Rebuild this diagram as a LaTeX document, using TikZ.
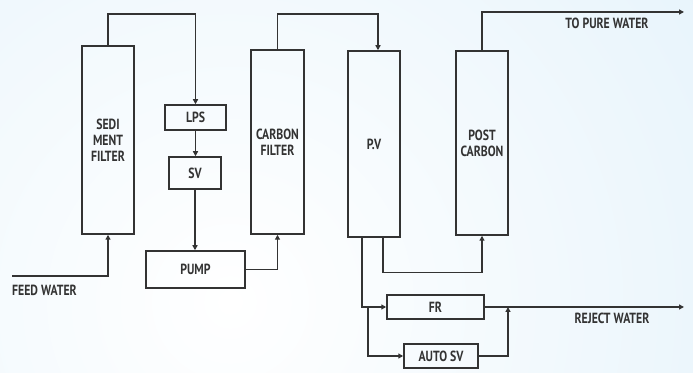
\documentclass[tikz,border=0pt]{standalone}
\usepackage{fontspec}
\setmainfont{PT Sans}[FakeStretch=0.8, BoldFont={PT Sans Bold}]
\usetikzlibrary{arrows.meta}
\definecolor{ink}{HTML}{333333}
\definecolor{bgblue}{HTML}{D2EAF8}
\tikzset{
  box/.style={draw=ink, line width=1.5pt, fill=none, inner sep=0pt, align=center, text=ink, font=\fontsize{14.7}{16}\selectfont\bfseries},
  flow/.style={draw=ink, line width=1.5pt, -{Triangle[length=5pt,width=5pt]}},
  lbl/.style={text=ink, font=\fontsize{14.7}{16}\selectfont\bfseries, inner sep=0pt}
}
\begin{document}
\begin{tikzpicture}[x=1pt,y=1pt]
\useasboundingbox (0,0) rectangle (693,372);
\begin{scope}
\clip (0,0) rectangle (693,372);
\fill[white] (0,0) rectangle (693,372);
\shade[inner color=white, outer color=bgblue] (230,70) circle (1100);
\end{scope}
% boxes
\node[box, minimum width=52pt, minimum height=188pt] (sedi) at (108,232) {SEDI\\MENT\\FILTER};
\node[box, minimum width=61pt, minimum height=25pt] (lps) at (195.5,254.5) {LPS};
\node[box, minimum width=52pt, minimum height=32pt] (sv) at (195,199) {SV};
\node[box, minimum width=99pt, minimum height=37pt] (pump) at (195.5,102.5) {PUMP};
\node[box, minimum width=53pt, minimum height=184pt] (carbon) at (277.5,230) {CARBON\\FILTER};
\node[box, minimum width=52pt, minimum height=186pt] (pv) at (374,228) {P.V};
\node[box, minimum width=52pt, minimum height=184pt] (post) at (482,229) {POST\\CARBON};
\node[box, minimum width=97pt, minimum height=24pt] (fr) at (435.5,65) {FR};
\node[box, minimum width=74pt, minimum height=24pt] (asv) at (441,16) {AUTO SV};
% labels
\node[lbl, anchor=west] (feedlbl) at (12,82) {FEED WATER};
\node[lbl] (purelbl) at (607,349) {TO PURE WATER};
\node[lbl] (rejlbl) at (612,54) {REJECT WATER};
% free ends and helper points
\coordinate (feed) at (12,96);
\coordinate (pure) at (684,360);
\coordinate (rej) at (684,65);
\coordinate (top) at (0,358);
\coordinate (pvin) at ([xshift=4pt]pv.north);
\coordinate (pvout1) at ([xshift=9pt]pv.south);
\coordinate (pvout2) at ([xshift=-12pt]pv.south);
\coordinate (pvout3) at ([xshift=-6pt]pv.south);
\coordinate (br) at (pvout3 |- fr.west);
\coordinate (jn) at (508,65);
% connectors
\draw[flow] (feed) -| (sedi.south);
\draw[flow] (sedi.north) |- (top -| lps.north) -- (lps.north);
\draw[flow] (lps.south) -- (lps.south |- sv.north);
\draw[flow] (sv.south) -- (sv.south |- pump.north);
\draw[flow] (pump.east) -| (carbon.south);
\draw[flow] (carbon.north) |- (top -| pvin) -- (pvin);
\draw[flow] (post.north) |- (pure);
\draw[flow] (pvout1) |- ++(0,-35) -| (post.south);
\draw[flow] (pvout2) |- (fr.west);
\draw[flow] (br) |- (asv.west);
\draw[flow] (fr.east) -- (rej);
\draw[flow] (asv.east) -| (jn);
\end{tikzpicture}
\end{document}
